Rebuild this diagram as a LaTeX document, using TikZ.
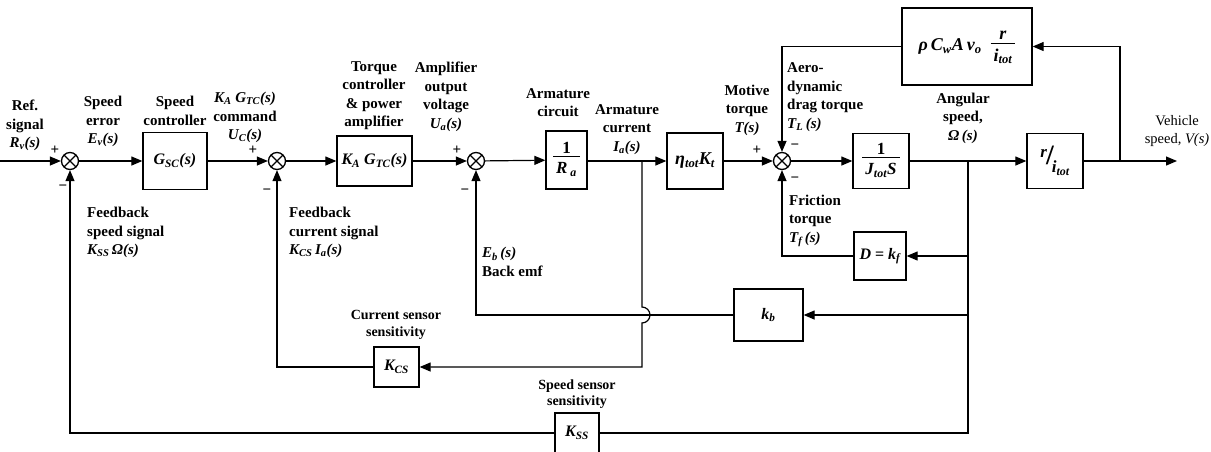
\documentclass[tikz,border=0pt]{standalone}
\usepackage{fontspec}
\setmainfont{Liberation Serif}
\usetikzlibrary{arrows.meta,calc}
\newcommand\ssub[1]{\textsubscript{#1}}
\setlength\arrayrulewidth{1.1pt}
\newcommand\frc[2]{\begin{tabular}{@{\hspace{3pt}}c@{\hspace{3pt}}}#1\\[-3pt]\hline\rule{0pt}{17pt}#2\end{tabular}}
\begin{document}
\begin{tikzpicture}[x=1pt,y=-1pt,
  lbl/.style={inner sep=0pt, align=center, font=\bfseries\fontsize{15}{18.5}\selectfont},
  sml/.style={inner sep=0pt, align=center, font=\bfseries\fontsize{14}{16.5}\selectfont},
  blk/.style={draw, line width=1.3pt, inner sep=1pt, font=\bfseries\itshape\fontsize{16}{18}\selectfont},
  sumj/.style={draw, circle, line width=1.3pt, minimum size=17pt, inner sep=0pt,
    path picture={\draw[line width=1.3pt] (path picture bounding box.north west) -- (path picture bounding box.south east)
      (path picture bounding box.north east) -- (path picture bounding box.south west);}},
  ln/.style={line width=1.2pt},
  arr/.style={ln, -{Triangle[length=11pt,width=9pt]}},
  sgn/.style={inner sep=0pt, font=\bfseries\fontsize{15}{15}\selectfont}]
\useasboundingbox (0,0) rectangle (1211,451);

% main path nodes
\node[sumj] (j1) at (70,161) {};
\node[blk, minimum width=64pt, minimum height=57pt] (gsc) at (175,161) {G\ssub{SC}(s)};
\node[sumj] (j2) at (277,161) {};
\node[blk, minimum width=75pt, minimum height=50pt] (ka) at (374.5,161) {K\ssub{A} G\ssub{TC}(s)};
\node[sumj] (j3) at (476,161) {};
\node[blk, minimum width=41pt, minimum height=58pt, font=\bfseries\itshape\fontsize{17}{18}\selectfont] (ra) at (566.5,160) {\frc{\textup{1}}{R\,\ssub{a}}};
\node[blk, minimum width=56pt, minimum height=56pt, font=\bfseries\itshape\fontsize{18}{18}\selectfont] (etak) at (695,161) {η\ssub{tot}K\ssub{t}};
\node[sumj] (j4) at (782,161) {};
\node[blk, minimum width=56pt, minimum height=55pt, font=\bfseries\itshape\fontsize{17}{18}\selectfont] (jt) at (881,161) {\frc{\textup{1}}{J\ssub{tot}S}};
\node[blk, minimum width=56pt, minimum height=55pt, font=\bfseries\itshape\fontsize{17}{18}\selectfont] (rit) at (1055,161) {\raisebox{7pt}{r}\kern-1pt{\fontsize{28}{28}\selectfont\textup{/}}\kern-2pt\raisebox{-8pt}{i\ssub{tot}}};
\node[blk, minimum width=130pt, minimum height=77pt, font=\bfseries\itshape\fontsize{18}{20}\selectfont] (aero) at (967,46.5) {ρ\,C\ssub{w}A\,v\ssub{o}\ \ \frc{r}{i\ssub{tot}}};
\node[blk, minimum width=52pt, minimum height=48pt] (dk) at (880,256) {D \textup{=} k\ssub{f}};
\node[blk, minimum width=69pt, minimum height=52pt] (kb) at (768.5,315) {k\ssub{b}};
\node[blk, minimum width=45pt, minimum height=40pt] (kcs) at (396.5,367) {K\ssub{CS}};
\node[blk, minimum width=44pt, minimum height=40pt] (kss) at (577,433) {K\ssub{SS}};

\coordinate (in) at (0,161);
\coordinate (out) at (1177,161);
\coordinate (bI) at (642,161);
\coordinate (bW) at (968,161);
\coordinate (bV) at (1120,161);

% forward connectors
\draw[arr] (in) -- (j1);
\draw[arr] (j1) -- (gsc);
\draw[arr] (gsc) -- (j2);
\draw[arr] (j2) -- (ka);
\draw[arr] (ka) -- (j3);
\draw[arr] (j3) -- (ra);
\draw[arr] (ra.east |- bI) -- (etak);
\draw[arr] (etak) -- (j4);
\draw[arr] (j4) -- (jt);
\draw[arr] (jt) -- (rit);
\draw[arr] (rit) -- (out);

% feedback connectors
\draw[arr] (bV) |- (aero.east);
\draw[arr] (aero.west) -| (j4);
\draw[ln] (bW) |- (kss);
\draw[arr] (bW |- dk) -- (dk);
\draw[arr] (bW |- kb) -- (kb);
\draw[arr] (dk) -| (j4);
\draw[arr] (kb) -| (j3);
\draw[arr] (bI) -- (642,307) arc (-90:90:8) |- (kcs);
\draw[arr] (kcs) -| (j2);
\draw[arr] (kss) -| (j1);

% signs
\node[sgn] at (55,150) {+};
\node[sgn] at (63,188) {−};
\node[sgn] at (253,150) {+};
\node[sgn] at (267,192) {−};
\node[sgn] at (457,150) {+};
\node[sgn] at (465,192) {−};
\node[sgn] at (757,150) {+};
\node[sgn] at (795,147) {−};
\node[sgn] at (795,180) {−};

% labels
\node[lbl] at (25,125.5) {Ref.\\signal\\\textit{R\ssub{v}(s)}};
\node[lbl] at (103,121.5) {Speed\\error\\\textit{E\ssub{v}(s)}};
\node[lbl] at (175,111) {Speed\\controller};
\node[lbl] at (245,117.5) {\textit{K\ssub{A} G\ssub{TC}(s)}\\command\\\textit{U\ssub{C}(s)}};
\node[lbl] at (374,95.5) {Torque\\controller\\\& power\\amplifier};
\node[lbl] at (446,97) {Amplifier\\output\\voltage\\\textit{U\ssub{a}(s)}};
\node[lbl] at (558,102.5) {Armature\\circuit};
\node[lbl] at (627,129.5) {Armature\\current\\\textit{I\ssub{a}(s)}};
\node[lbl] at (747,110) {Motive\\torque\\\textit{T(s)}};
\node[lbl, anchor=west, align=left] at (787,97) {Aero-\\dynamic\\drag torque\\\textit{T\ssub{L}\,(s)}};
\node[lbl, anchor=west, align=left] at (789,221) {Friction\\torque\\\textit{T\ssub{f}\,(s)}};
\node[lbl] at (963,118) {Angular\\speed,\\\textit{Ω\,(s)}};
\node[lbl, font=\fontsize{14.5}{18}\selectfont] at (1177,131) {Vehicle\\speed, \textit{V(s)}};
\node[lbl, anchor=west, align=left] at (87,232.5) {Feedback\\speed signal\\\textit{K\ssub{SS}\,Ω(s)}};
\node[lbl, anchor=west, align=left] at (289,232.5) {Feedback\\current signal\\\textit{K\ssub{CS}\,I\ssub{a}(s)}};
\node[lbl, anchor=west, align=left] at (482,262) {\textit{E\ssub{b}\,(s)}\\Back emf};
\node[sml] at (396,325) {Current sensor\\sensitivity};
\node[sml] at (577,394) {Speed sensor\\sensitivity};
\end{tikzpicture}
\end{document}
